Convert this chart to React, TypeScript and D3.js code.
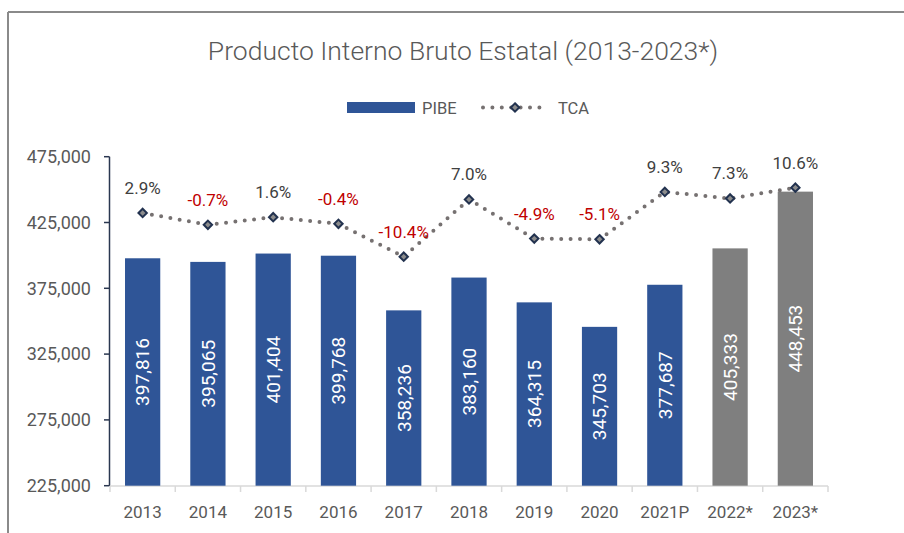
import React from "react";
import * as d3 from "d3";

const categories = ["2013", "2014", "2015", "2016", "2017", "2018", "2019", "2020", "2021P", "2022*", "2023*"];
const pibeValues = [397816, 395065, 401404, 399768, 358236, 383160, 364315, 345703, 377687, 405333, 448453];
const tcaValues = [2.9, -0.7, 1.6, -0.4, -10.4, 7.0, -4.9, -5.1, 9.3, 7.3, 10.6];
const yTicks = [225000, 275000, 325000, 375000, 425000, 475000];
const estimated = ["2022*", "2023*"];

const W = 904;
const H = 533;
const FONT = "Roboto, 'Open Sans', sans-serif";
const TEXT = "#595959";
const BLUE = "#2F5597";
const GRAY = "#7F7F7F";
const LINE = "#767171";

export default function App() {
  const xb = d3.scaleBand<string>().domain(categories).range([110, 828]);
  const y = d3.scaleLinear().domain([225000, 475000]).range([485.7, 156.7]);
  const y2 = d3.scaleLinear().domain([-80, 20]).range([485.7, 156.7]);
  const fmt = d3.format(",");
  const cx = (c: string) => (xb(c) as number) + xb.bandwidth() / 2;
  const bw = xb.bandwidth() * 0.54;

  const lineGen = d3
    .line<number>()
    .x((_, i) => cx(categories[i]))
    .y((d) => y2(d));

  const diamond = "M0,-4.2L4.2,0L0,4.2L-4.2,0Z";

  return (
    <svg width={W} height={H} style={{ position: "absolute", left: 0, top: 0, background: "#fff" }} fontFamily={FONT}>
      {/* outer frame */}
      <line x1={8} y1={12} x2={W} y2={12} stroke="#8a8a8a" strokeWidth={2} />
      <line x1={8} y1={12} x2={8} y2={H} stroke="#8a8a8a" strokeWidth={2} />

      <text x={463} y={60} textAnchor="middle" fontSize={26.5} fontWeight={300} fill={TEXT}>
        Producto Interno Bruto Estatal (2013-2023*)
      </text>

      {/* legend */}
      <rect x={347} y={102} width={68} height={11} fill={BLUE} />
      <text x={422} y={113.5} fontSize={16.5} fill={TEXT}>PIBE</text>
      <line x1={483} y1={107.5} x2={541} y2={107.5} stroke={LINE} strokeWidth={4} strokeDasharray="0 9.4" strokeLinecap="round" />
      <path d={diamond} transform="translate(515,107.5)" fill="#8c8c8c" stroke="#22324f" strokeWidth={2} />
      <text x={558} y={113.5} fontSize={16.5} fill={TEXT}>TCA</text>

      {/* y axis */}
      <line x1={109.5} y1={y(475000)} x2={109.5} y2={y(225000)} stroke="#2a3750" strokeWidth={1.5} />
      {yTicks.map((t) => (
        <g key={t}>
          <line x1={104} x2={109.5} y1={y(t)} y2={y(t)} stroke="#2a3750" strokeWidth={1.5} />
          <text x={91} y={y(t)} dy="0.35em" textAnchor="end" fontSize={18} fill={TEXT}>
            {fmt(t)}
          </text>
        </g>
      ))}

      {/* x axis */}
      <line x1={110} x2={828} y1={486} y2={486} stroke="#d9d9d9" strokeWidth={1.5} />
      {categories.concat(["end"]).map((c, i) => {
        const xx = i < categories.length ? (xb(c) as number) : 828;
        return <line key={"t" + i} x1={xx} x2={xx} y1={486} y2={492} stroke="#d9d9d9" strokeWidth={1.5} />;
      })}
      {categories.map((c) => (
        <text key={"xl" + c} x={cx(c)} y={512} dy="0.35em" textAnchor="middle" fontSize={17} fill={TEXT}>
          {c}
        </text>
      ))}

      {/* bars */}
      {categories.map((c, i) => {
        const v = pibeValues[i];
        const top = y(v);
        const base = y(225000);
        const color = estimated.includes(c) ? GRAY : BLUE;
        const mid = (top + base) / 2;
        return (
          <g key={"b" + c}>
            <rect x={cx(c) - bw / 2} y={top} width={bw} height={base - top} fill={color} />
            <text
              transform={`translate(${cx(c)},${mid}) rotate(-90)`}
              textAnchor="middle"
              dy="0.36em"
              fontSize={19}
              fill="#ffffff"
            >
              {fmt(v)}
            </text>
          </g>
        );
      })}

      {/* TCA line */}
      <path d={lineGen(tcaValues) || ""} fill="none" stroke={LINE} strokeWidth={4} strokeDasharray="0 9.4" strokeLinecap="round" />
      {tcaValues.map((v, i) => (
        <g key={"m" + i}>
          <path d={diamond} transform={`translate(${cx(categories[i])},${y2(v)})`} fill="#8c8c8c" stroke="#22324f" strokeWidth={2} />
          <text
            x={cx(categories[i])}
            y={y2(v) - 25}
            dy="0.35em"
            textAnchor="middle"
            fontSize={17}
            fill={v < 0 ? "#C00000" : "#404040"}
          >
            {v.toFixed(1) + "%"}
          </text>
        </g>
      ))}
    </svg>
  );
}
